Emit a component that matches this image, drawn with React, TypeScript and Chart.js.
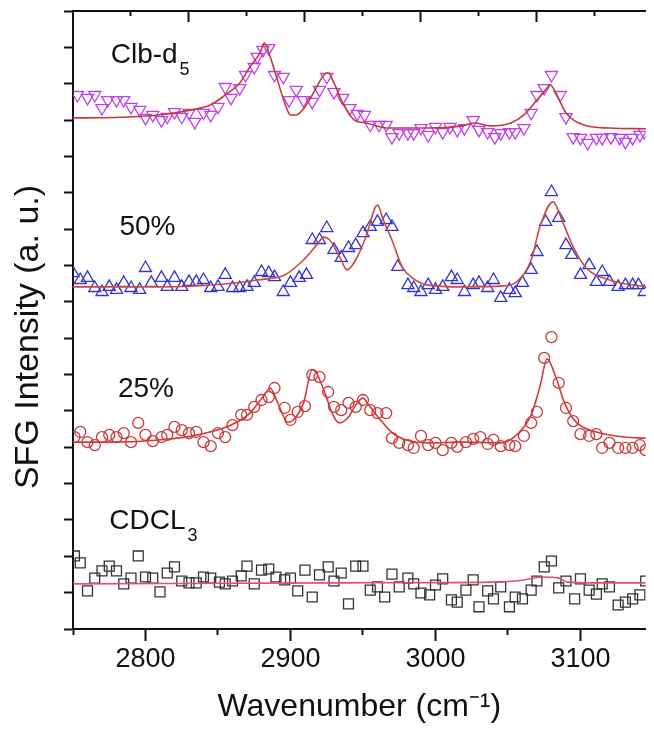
import React, { useEffect, useRef } from 'react';
import { Chart, registerables } from 'chart.js';

Chart.register(...registerables);

const FONT = "'Liberation Sans', Arial, Helvetica, sans-serif";

// Axis ticks
const xMajorTicks = [2800, 2900, 3000, 3100];
const xMinorTicks = [2750, 2850, 2950, 3050];
const topMajorTicks = [2830, 2910, 2990, 3070];
const topMinorTicks = [2790, 2870, 2950, 3030, 3110];
const yTicks = [0, 1, 2, 3, 4, 5, 6, 7, 8, 9, 10, 11, 12, 13, 14, 15, 16, 17];

// Clb-d5 (down triangles)
const clbX = [2753,2760,2765,2770,2774,2780,2785,2790,2796,2800,2805,2811,2815,2820,2825,2830,2834,2840,2845,2850,2855,2859,2865,2869,2875,2877,2881,2885,2889,2895,2899,2904,2909,2915,2920,2925,2930,2936,2941,2946,2951,2955,2961,2966,2970,2975,2981,2985,2990,2995,3000,3005,3010,3015,3020,3026,3030,3036,3041,3045,3051,3055,3061,3066,3070,3075,3080,3086,3090,3095,3100,3105,3111,3115,3121,3127,3131,3136,3141,3144];
const clbY = [14.69,14.61,14.69,14.33,14.55,14.55,14.55,14.36,14.28,14.06,14.14,14.0,14.09,14.22,14.09,14.2,13.95,14.2,14.14,14.36,14.91,14.61,14.88,15.24,15.46,15.74,15.93,15.98,15.24,15.19,14.55,14.83,14.55,14.5,14.83,15.19,14.77,14.61,14.33,14.17,14.14,13.87,13.87,13.87,13.53,13.64,13.64,13.64,13.78,13.59,13.81,13.67,13.81,13.73,13.78,14.0,13.73,13.67,13.53,13.64,13.67,13.67,13.78,14.2,14.69,14.88,15.24,14.69,14.08,13.53,13.51,13.37,13.51,13.51,13.53,13.51,13.4,13.51,13.59,13.67];
const clbFitX = [2750,2755,2809,2832,2845,2855,2865,2872,2879,2882,2886,2891,2896,2900,2904,2910,2917,2923,2926,2930,2936,2944,2952,2968,2995,3018,3027,3038,3052,3061,3070,3076,3079,3083,3090,3102,3120,3145];
const clbFitY = [14.06,14.06,14.14,14.28,14.42,14.69,15.02,15.46,15.85,16.12,15.74,15.1,14.47,14.14,14.14,14.36,14.83,15.24,15.3,15.02,14.47,14.0,13.92,13.78,13.78,13.84,13.92,13.84,13.92,14.14,14.55,14.83,14.97,14.75,14.2,13.87,13.78,13.76];

// 50% (up triangles)
const p50X = [2750,2755,2760,2765,2770,2775,2780,2785,2790,2796,2800,2804,2811,2815,2820,2825,2830,2835,2840,2845,2850,2855,2860,2865,2870,2875,2880,2885,2889,2895,2900,2906,2911,2915,2920,2925,2930,2935,2940,2945,2950,2955,2960,2966,2970,2974,2981,2985,2990,2995,3000,3005,3011,3015,3020,3026,3030,3036,3040,3045,3051,3055,3060,3066,3070,3076,3080,3085,3090,3094,3100,3106,3111,3115,3120,3126,3131,3136,3140,3144];
const p50Y = [9.79,9.6,9.66,9.38,9.27,9.41,9.33,9.52,9.38,9.33,9.93,9.52,9.66,9.41,9.66,9.41,9.55,9.55,9.6,9.38,9.41,9.74,9.38,9.38,9.41,9.52,9.82,9.79,9.68,9.27,9.52,9.66,9.74,10.7,10.7,11.03,10.43,10.21,10.48,10.56,10.89,11.06,11.2,11.25,11.06,9.96,9.46,9.38,9.27,9.46,9.33,9.41,9.68,9.6,9.27,9.46,9.52,9.38,9.6,9.11,9.33,9.24,9.52,9.88,10.37,11.2,12.02,11.31,10.56,10.29,9.74,10.01,9.55,9.82,9.55,9.41,9.46,9.46,9.46,9.27];
const p50FitX = [2750,2809,2855,2877,2896,2909,2918,2923,2927,2934,2939,2945,2952,2960,2964,2970,2977,2984,2995,3018,3047,3056,3066,3072,3081,3088,3095,3104,3120,3145];
const p50FitY = [9.41,9.41,9.49,9.6,9.74,10.15,10.56,10.78,10.7,10.23,9.88,10.15,10.78,11.66,11.25,10.7,9.96,9.66,9.46,9.41,9.44,9.55,10.15,11.06,11.75,11.17,10.51,9.93,9.6,9.41];

// 25% (circles)
const p25X = [2751,2755,2760,2765,2770,2775,2780,2785,2790,2795,2800,2805,2811,2815,2820,2825,2830,2835,2840,2845,2850,2855,2860,2866,2870,2875,2880,2885,2889,2896,2900,2905,2910,2915,2920,2926,2930,2935,2940,2945,2950,2955,2960,2966,2970,2975,2981,2985,2990,2995,3000,3005,3011,3015,3021,3026,3031,3036,3040,3045,3051,3055,3061,3066,3070,3075,3080,3085,3090,3095,3100,3106,3111,3115,3120,3126,3131,3136,3141,3145];
const p25Y = [5.28,5.42,5.14,5.06,5.28,5.34,5.28,5.39,5.14,5.67,5.34,5.17,5.28,5.34,5.56,5.47,5.39,5.42,5.14,5.03,5.39,5.28,5.61,5.89,5.89,6.11,6.3,6.38,6.63,6.08,5.75,5.97,6.13,6.99,6.93,6.52,6.11,6.02,6.22,6.11,6.3,6.02,5.94,5.94,5.25,5.12,5.06,4.98,5.31,5.06,5.12,4.92,5.12,5.01,5.14,5.23,5.28,5.09,5.2,5.03,5.06,5.03,5.31,5.67,5.97,7.46,8.03,6.77,6.08,5.72,5.36,5.31,5.36,4.98,5.12,4.98,4.98,4.98,5.06,4.92];
const p25FitX = [2750,2775,2809,2836,2859,2872,2882,2886,2891,2898,2902,2909,2915,2918,2923,2930,2934,2940,2945,2950,2954,2961,2972,2995,3018,3045,3056,3066,3072,3077,3083,3089,3097,3111,3131,3145];
const p25FitY = [5.14,5.14,5.2,5.34,5.61,5.94,6.44,6.63,6.24,5.69,5.75,6.22,7.13,7.04,6.57,5.83,5.67,5.83,6.16,6.35,6.16,5.8,5.34,5.12,5.14,5.12,5.34,5.89,6.66,7.43,6.93,6.22,5.69,5.42,5.28,5.25];

// CDCL3 (squares)
const cdX = [2751,2755,2760,2765,2770,2775,2780,2785,2790,2795,2800,2805,2810,2815,2820,2825,2830,2835,2840,2845,2851,2855,2860,2866,2870,2875,2880,2885,2890,2896,2900,2905,2910,2915,2920,2926,2930,2935,2940,2945,2950,2955,2960,2965,2970,2975,2981,2985,2990,2996,3000,3005,3011,3015,3021,3026,3030,3036,3040,3045,3051,3055,3060,3066,3070,3075,3080,3085,3090,3096,3100,3106,3111,3115,3120,3126,3131,3136,3141,3145];
const cdY = [2.01,1.82,1.05,1.4,1.6,1.73,1.6,1.24,1.4,2.01,1.43,1.4,1.02,1.54,1.71,1.32,1.27,1.27,1.43,1.4,1.29,1.24,1.32,1.46,1.73,1.24,1.62,1.65,1.43,1.35,1.4,1.05,1.62,0.88,1.49,1.71,1.32,1.54,0.69,1.73,1.73,1.07,1.16,0.88,1.51,1.16,1.4,1.24,0.99,0.94,1.21,1.38,0.8,0.74,1.07,1.35,0.61,1.05,0.83,1.16,0.61,0.88,0.83,1.07,1.32,1.71,1.87,1.13,1.32,0.83,1.38,1.07,0.96,1.24,1.16,0.66,0.74,0.83,0.94,1.32];
const cdFitX = [2750,2938,3040,3061,3074,3085,3091,3108,3145];
const cdFitY = [1.24,1.27,1.29,1.35,1.43,1.4,1.29,1.27,1.27];

// Series labels
const labelTexts = ['Clb-d', '50%', '25%', 'CDCL'];
const labelSubs = ['5', '', '', '3'];
const labelX = [2776, 2782, 2781, 2775];
const labelY = [15.57, 10.84, 6.38, 2.75];

const X_MIN = 2750;
const X_MAX = 3145;
const Y_MIN = 0;
const Y_MAX = 17;

const xTitle = 'Wavenumber (cm\u207B\u00B9)';
const yTitle = 'SFG Intensity (a. u.)';

export default function App() {
  const ref = useRef<HTMLCanvasElement>(null);

  useEffect(() => {
    if (!ref.current) return;
    const pts = (xs: number[], ys: number[]) => xs.map((x, i) => ({ x, y: ys[i] }));
    const setTicks = (vals: number[]) => (axis: any) => {
      axis.ticks = vals.map((v) => ({ value: v }));
    };

    const annot = {
      id: 'annot',
      afterDraw(chart: any) {
        const { ctx, chartArea } = chart;
        const xs = chart.scales.x;
        const ys = chart.scales.y;
        ctx.save();
        ctx.fillStyle = '#111';
        ctx.textBaseline = 'alphabetic';
        ctx.textAlign = 'left';
        labelTexts.forEach((t, i) => {
          const px = xs.getPixelForValue(labelX[i]);
          const py = ys.getPixelForValue(labelY[i]);
          ctx.font = `28px ${FONT}`;
          ctx.fillText(t, px, py);
          if (labelSubs[i]) {
            const w = ctx.measureText(t).width;
            ctx.font = `18px ${FONT}`;
            ctx.fillText(labelSubs[i], px + w + 2, py + 12);
          }
        });
        ctx.translate(29, (chartArea.top + chartArea.bottom) / 2 + 17);
        ctx.rotate(-Math.PI / 2);
        ctx.font = `34px ${FONT}`;
        ctx.textAlign = 'center';
        ctx.textBaseline = 'middle';
        ctx.fillText(yTitle, 0, 0);
        ctx.restore();
      },
    };

    const scatter = (data: any, style: string, rot: number, r: number, color: string) => ({
      data,
      showLine: false,
      pointStyle: style,
      pointRotation: rot,
      pointRadius: r,
      pointBorderColor: color,
      pointBackgroundColor: 'rgba(0,0,0,0)',
      pointBorderWidth: 1.3,
      borderColor: color,
    });
    const fit = (data: any, color: string) => ({
      data,
      borderColor: color,
      borderWidth: 1.6,
      pointRadius: 0,
      cubicInterpolationMode: 'monotone',
      fill: false,
    });

    const tickGrid = (len: number) => ({
      drawOnChartArea: false,
      drawTicks: true,
      tickLength: len,
      tickWidth: 2,
      tickColor: '#111',
    });

    const chart = new Chart(ref.current, {
      type: 'line',
      data: {
        datasets: [
          fit(pts(clbFitX, clbFitY), '#c43a38'),
          fit(pts(p50FitX, p50FitY), '#cc4a40'),
          fit(pts(p25FitX, p25FitY), '#d03a3a'),
          fit(pts(cdFitX, cdFitY), '#e4506a'),
          scatter(pts(clbX, clbY), 'triangle', 180, 7, '#c040ee'),
          scatter(pts(p50X, p50Y), 'triangle', 0, 7, '#3434d4'),
          scatter(pts(p25X, p25Y), 'circle', 0, 5.5, '#cc3838'),
          scatter(pts(cdX, cdY), 'rect', 0, 7, '#333333'),
        ] as any,
      },
      options: {
        responsive: false,
        animation: false,
        layout: { padding: { top: 11, right: 0, bottom: 0, left: 0 } },
        plugins: { legend: { display: false }, tooltip: { enabled: false } },
        scales: {
          x: {
            type: 'linear',
            axis: 'x',
            position: 'bottom',
            min: X_MIN,
            max: X_MAX,
            afterBuildTicks: setTicks(xMajorTicks),
            afterFit: (s: any) => { s.height = 100; },
            ticks: {
              font: { size: 27, family: FONT },
              color: '#111',
              padding: 2,
              maxRotation: 0,
              autoSkip: false,
              callback: (v: any) => String(v),
            },
            grid: tickGrid(12),
            border: { display: true, color: '#111', width: 2 },
            title: {
              display: true,
              text: xTitle,
              font: { size: 32, family: FONT },
              color: '#111',
              padding: { top: 0, bottom: 3 },
            },
          },
          xMinor: {
            type: 'linear',
            axis: 'x',
            position: { y: 0 },
            min: X_MIN,
            max: X_MAX,
            afterBuildTicks: setTicks(xMinorTicks),
            ticks: { display: false },
            grid: tickGrid(6),
            border: { display: false },
          },
          xTopMajor: {
            type: 'linear',
            axis: 'x',
            position: { y: Y_MAX },
            min: X_MIN,
            max: X_MAX,
            afterBuildTicks: setTicks(topMajorTicks),
            ticks: { display: false },
            grid: tickGrid(10),
            border: { display: true, color: '#111', width: 2 },
          },
          xTopMinor: {
            type: 'linear',
            axis: 'x',
            position: { y: Y_MAX },
            min: X_MIN,
            max: X_MAX,
            afterBuildTicks: setTicks(topMinorTicks),
            ticks: { display: false },
            grid: tickGrid(5),
            border: { display: false },
          },
          y: {
            type: 'linear',
            axis: 'y',
            position: 'left',
            min: Y_MIN,
            max: Y_MAX,
            afterBuildTicks: setTicks(yTicks),
            afterFit: (s: any) => { s.width = 73; },
            ticks: { display: false },
            grid: tickGrid(9),
            border: { display: true, color: '#111', width: 2 },
          },
        },
      } as any,
      plugins: [annot],
    });
    return () => chart.destroy();
  }, []);

  return (
    <div style={{ position: 'absolute', left: 0, top: 0, width: 654, height: 729, background: '#fff', overflow: 'hidden' }}>
      <canvas ref={ref} width={654} height={729} style={{ display: 'block' }} />
    </div>
  );
}
